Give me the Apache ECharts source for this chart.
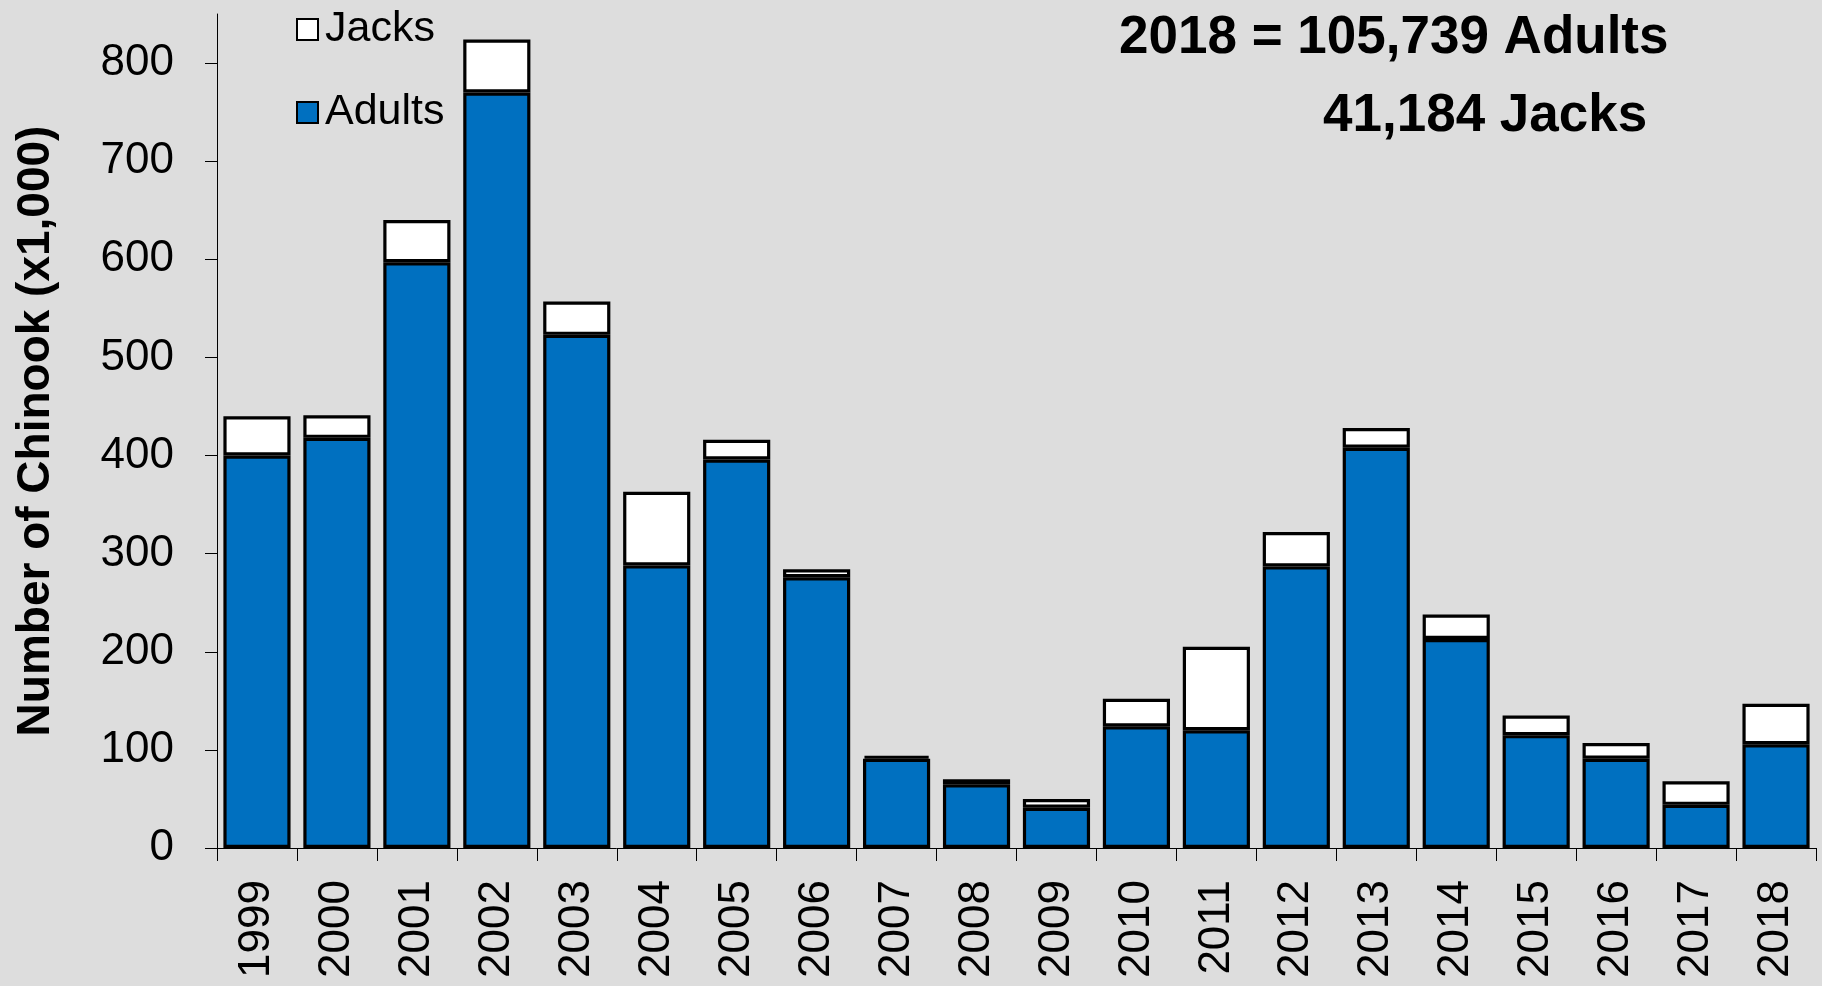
<!DOCTYPE html>
<html>
<head>
<meta charset="utf-8">
<script src="https://cdn.jsdelivr.net/npm/echarts@6/dist/echarts.min.js"></script>
<style>
html,body{margin:0;padding:0;background:#DDDDDD;}
#c{width:1822px;height:986px;}
</style>
</head>
<body>
<div id="c"></div>
<script>
const years = ['1999','2000','2001','2002','2003','2004','2005','2006','2007','2008','2009','2010','2011','2012','2013','2014','2015','2016','2017','2018'];
const adults = [400, 418, 597, 770, 523, 288, 396, 276, 91, 65, 41, 124, 120, 287, 408, 213, 115, 91, 44, 105.739];
const jacks  = [40, 23, 43, 54, 34, 75, 20, 8, 3, 5, 9, 28, 85, 35, 20, 25, 20, 16, 24, 41.184];
const yTicks = [0, 100, 200, 300, 400, 500, 600, 700, 800];
const noteLines = ['2018 = 105,739 Adults', '41,184 Jacks'];

const FONT = '"Liberation Sans", Arial, sans-serif';
const chart = echarts.init(document.getElementById('c'), null, {renderer: 'canvas'});
chart.setOption({
  backgroundColor: '#DDDDDD',
  animation: false,
  textStyle: {fontFamily: FONT},
  grid: {left: 217, right: 6, top: 14, bottom: 138, containLabel: false},
  legend: {
    data: ['Jacks', 'Adults'],
    orient: 'vertical',
    left: 291,
    top: 3,
    itemWidth: 21,
    itemHeight: 21,
    itemGap: 40,
    icon: 'rect',
    textStyle: {fontSize: 43, color: '#000', fontFamily: FONT, padding: [0, 0, 0, 2]}
  },
  xAxis: {
    type: 'category',
    data: years,
    axisLine: {show: true, lineStyle: {color: '#000', width: 1}},
    axisTick: {show: true, interval: 0, length: 13, lineStyle: {color: '#000', width: 1}},
    axisLabel: {rotate: 90, fontSize: 44, color: '#000', margin: 32, interval: 0, fontFamily: FONT},
    splitLine: {show: false}
  },
  yAxis: {
    type: 'value',
    min: 0,
    max: 850,
    interval: 100,
    name: 'Number of Chinook (x1,000)',
    nameLocation: 'middle',
    nameGap: 158,
    nameTextStyle: {fontSize: 46, fontWeight: 'bold', color: '#000', fontFamily: FONT},
    axisLine: {show: true, lineStyle: {color: '#000', width: 1}},
    axisTick: {show: true, length: 12, customValues: yTicks, lineStyle: {color: '#000', width: 1}},
    axisLabel: {fontSize: 44, color: '#000', margin: 43, customValues: yTicks, fontFamily: FONT},
    splitLine: {show: false}
  },
  series: [
    {
      name: 'Adults',
      type: 'bar',
      stack: 'total',
      data: adults,
      barCategoryGap: '16%',
      itemStyle: {color: '#0070C0', borderColor: '#000', borderWidth: 3.2}
    },
    {
      name: 'Jacks',
      type: 'bar',
      stack: 'total',
      data: jacks,
      barCategoryGap: '16%',
      itemStyle: {color: '#FFFFFF', borderColor: '#000', borderWidth: 3.2}
    }
  ],
  graphic: [
    {type: 'text', left: 1119, top: 12, style: {text: noteLines[0], font: 'bold 53px ' + FONT, fill: '#000'}},
    {type: 'text', left: 1323, top: 90, style: {text: noteLines[1], font: 'bold 53px ' + FONT, fill: '#000'}}
  ]
});
</script>
</body>
</html>
